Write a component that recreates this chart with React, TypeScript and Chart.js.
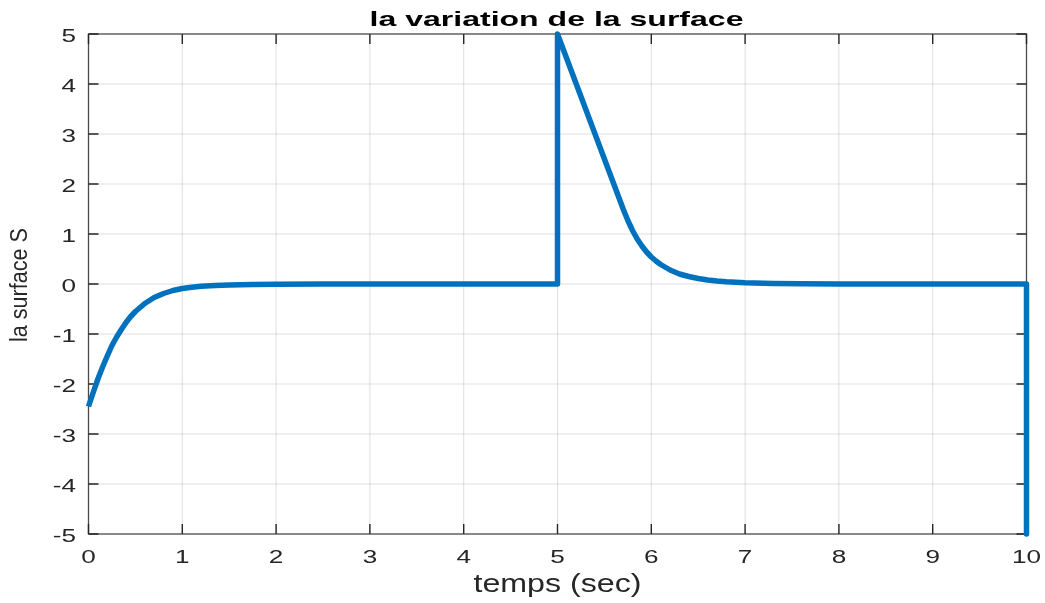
import React, { useEffect, useRef } from "react";
import { Chart, registerables } from "chart.js";

Chart.register(...registerables);

// ---- data ----
const timeValues: number[] = [
  0, 0.05, 0.1, 0.15, 0.2, 0.25, 0.3, 0.35, 0.4, 0.45, 0.5, 0.6, 0.7, 0.8, 0.9, 1.0,
  1.1, 1.2, 1.35, 1.5, 1.75, 2.0, 2.5, 3.0, 5.0,
  5.0, 5.1, 5.2, 5.3, 5.4, 5.5, 5.6, 5.7, 5.75, 5.8, 5.85, 5.9, 5.95, 6.0, 6.05,
  6.1, 6.2, 6.3, 6.4, 6.5, 6.6, 6.7, 6.8, 7.0, 7.3, 7.6, 8.0, 8.5, 10.0, 10.0,
];
const surfaceValues: number[] = [
  -2.45, -2.17, -1.9, -1.66, -1.44, -1.23, -1.06, -0.91, -0.77, -0.65, -0.55, -0.39, -0.27, -0.19, -0.13, -0.09,
  -0.065, -0.045, -0.028, -0.018, -0.009, -0.004, -0.001, 0, 0,
  5, 4.5, 4.0, 3.5, 3.0, 2.5, 2.0, 1.5, 1.27, 1.07, 0.9, 0.76, 0.64, 0.54, 0.46,
  0.39, 0.28, 0.2, 0.15, 0.11, 0.08, 0.06, 0.045, 0.025, 0.01, 0.004, 0.001, 0, 0, -5,
];
const xTickValues: number[] = [0, 1, 2, 3, 4, 5, 6, 7, 8, 9, 10];
const yTickValues: number[] = [-5, -4, -3, -2, -1, 0, 1, 2, 3, 4, 5];
const chartTitle = "la variation de la surface";
const xAxisTitle = "temps (sec)";
const yAxisTitle = "la surface S";

const FONT = "'Liberation Sans', Arial, Helvetica, sans-serif";
const TEXT_COLOR = "#262626";

function drawScaledText(
  ctx: CanvasRenderingContext2D,
  text: string,
  x: number,
  y: number,
  font: string,
  opts: { sx?: number; targetWidth?: number; align?: CanvasTextAlign; rot?: number; color?: string }
) {
  ctx.save();
  ctx.font = font;
  let sx = opts.sx ?? 1;
  if (opts.targetWidth) {
    const w = ctx.measureText(text).width;
    if (w > 0) sx = opts.targetWidth / w;
  }
  ctx.translate(x, y);
  if (opts.rot) ctx.rotate(opts.rot);
  ctx.scale(sx, 1);
  ctx.fillStyle = opts.color ?? TEXT_COLOR;
  ctx.textAlign = opts.align ?? "center";
  ctx.textBaseline = "alphabetic";
  ctx.fillText(text, 0, 0);
  ctx.restore();
}

const matlabAxes = {
  id: "matlabAxes",
  beforeDatasetsDraw(chart: any) {
    const { ctx, chartArea, scales } = chart;
    const { left, right, top, bottom } = chartArea;
    const xs = scales.x;
    const ys = scales.y;
    ctx.save();
    // grid
    ctx.strokeStyle = "rgba(38,38,38,0.15)";
    ctx.lineWidth = 1;
    ctx.beginPath();
    for (const v of xTickValues) {
      const px = xs.getPixelForValue(v);
      if (px <= left + 1 || px >= right - 1) continue;
      ctx.moveTo(px, top);
      ctx.lineTo(px, bottom);
    }
    for (const v of yTickValues) {
      const py = ys.getPixelForValue(v);
      if (py <= top + 1 || py >= bottom - 1) continue;
      ctx.moveTo(left, py);
      ctx.lineTo(right, py);
    }
    ctx.stroke();
    // box
    ctx.strokeStyle = "#4a4a4a";
    ctx.lineWidth = 1.3;
    ctx.strokeRect(left, top, right - left, bottom - top);
    // inward ticks
    const tl = 10;
    ctx.strokeStyle = "#262626";
    ctx.lineWidth = 1.4;
    ctx.beginPath();
    for (const v of xTickValues) {
      const px = xs.getPixelForValue(v);
      ctx.moveTo(px, bottom);
      ctx.lineTo(px, bottom - tl);
      ctx.moveTo(px, top);
      ctx.lineTo(px, top + tl);
    }
    for (const v of yTickValues) {
      const py = ys.getPixelForValue(v);
      ctx.moveTo(left, py);
      ctx.lineTo(left + tl, py);
      ctx.moveTo(right, py);
      ctx.lineTo(right - tl, py);
    }
    ctx.stroke();
    ctx.restore();
  },
  afterDatasetsDraw(chart: any) {
    const { ctx, chartArea, scales } = chart;
    const { left, bottom } = chartArea;
    const xs = scales.x;
    const ys = scales.y;
    const tickFont = `18px ${FONT}`;
    for (const v of yTickValues) {
      const py = ys.getPixelForValue(v);
      drawScaledText(ctx, String(v), left - 12.5, py + 7.5, tickFont, { sx: 1.45, align: "right" });
    }
    for (const v of xTickValues) {
      const px = xs.getPixelForValue(v);
      drawScaledText(ctx, String(v), px, bottom + 28.5, tickFont, { sx: 1.45, align: "center" });
    }
    drawScaledText(ctx, xAxisTitle, 557.5, 592, `26px ${FONT}`, { targetWidth: 168 });
    drawScaledText(ctx, yAxisTitle, 26.5, 285, `23px ${FONT}`, { targetWidth: 114, rot: -Math.PI / 2 });
    drawScaledText(ctx, chartTitle, 556.5, 25.5, `bold 21px ${FONT}`, { targetWidth: 374, color: "#000" });
  },
};

export default function App() {
  const canvasRef = useRef<HTMLCanvasElement | null>(null);

  useEffect(() => {
    const canvas = canvasRef.current;
    if (!canvas) return;
    const points = timeValues.map((t, i) => ({ x: t, y: surfaceValues[i] }));
    const chart = new Chart(canvas, {
      type: "scatter",
      data: {
        datasets: [
          {
            data: points,
            showLine: true,
            borderColor: "#0072BD",
            backgroundColor: "#0072BD",
            borderWidth: 5.5,
            pointRadius: 0,
            pointHoverRadius: 0,
            tension: 0,
            fill: false,
            clip: false as any,
            borderJoinStyle: "round",
            borderCapStyle: "butt",
          } as any,
        ],
      },
      options: {
        animation: false,
        responsive: false,
        devicePixelRatio: 1,
        events: [],
        layout: { padding: { left: 88.5, right: 18.5, top: 34, bottom: 69 } },
        scales: {
          x: { type: "linear", min: 0, max: 10, display: false },
          y: { type: "linear", min: -5, max: 5, display: false },
        },
        plugins: {
          legend: { display: false },
          tooltip: { enabled: false },
          title: { display: false },
        },
      },
      plugins: [matlabAxes as any],
    });
    return () => chart.destroy();
  }, []);

  return (
    <div style={{ position: "fixed", left: 0, top: 0, width: 1045, height: 603, background: "#fff" }}>
      <canvas ref={canvasRef} width={1045} height={603} style={{ display: "block" }} />
    </div>
  );
}
